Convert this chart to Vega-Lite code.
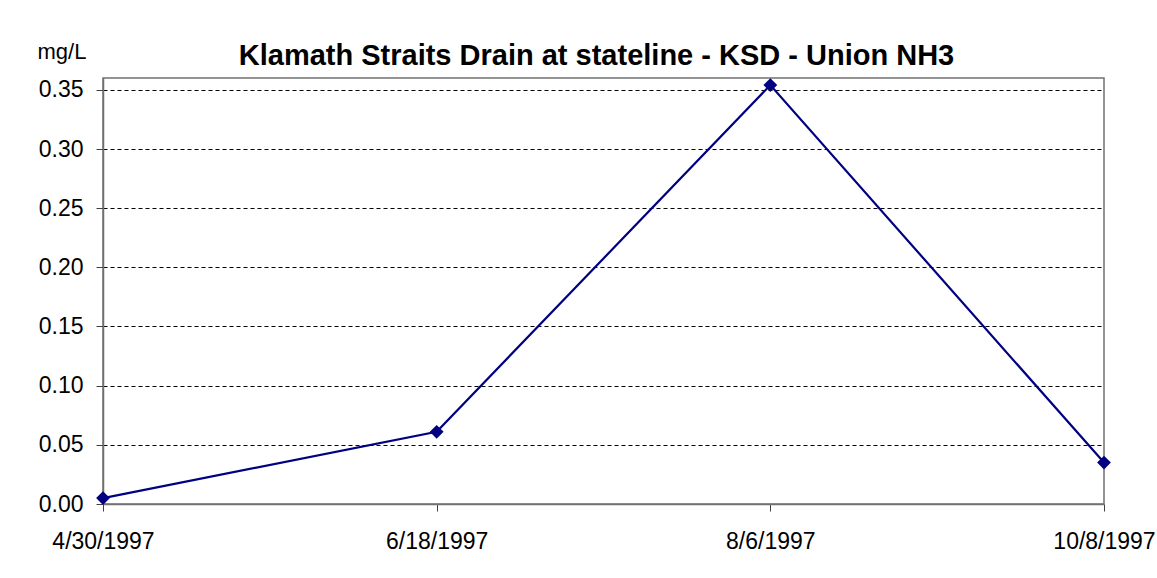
{
  "$schema": "https://vega.github.io/schema/vega-lite/v6.json",
  "width": 1001,
  "height": 426,
  "autosize": {"type": "none"},
  "padding": {"left": 103, "top": 78, "right": 53, "bottom": 74},
  "background": "white",
  "title": {
    "text": "Klamath Straits Drain at stateline - KSD - Union NH3",
    "font": "Liberation Sans",
    "fontSize": 29,
    "fontWeight": "bold",
    "color": "black",
    "anchor": "middle",
    "baseline": "alphabetic",
    "dx": -7,
    "dy": 66,
    "offset": 12
  },
  "data": {
    "values": [
      {"date": "4/30/1997", "value": 0.005},
      {"date": "6/18/1997", "value": 0.061},
      {"date": "8/6/1997", "value": 0.354},
      {"date": "10/8/1997", "value": 0.035}
    ]
  },
  "encoding": {
    "x": {
      "field": "date",
      "type": "ordinal",
      "sort": null,
      "scale": {"type": "point", "padding": 0},
      "axis": {
        "title": null,
        "labelAngle": 0,
        "labelFont": "Liberation Sans",
        "labelFontSize": 23,
        "labelColor": "black",
        "labelPadding": 19,
        "tickSize": 7,
        "tickColor": "#404040",
        "domainColor": "#707070",
        "domainWidth": 1.5,
        "grid": false
      }
    },
    "y": {
      "field": "value",
      "type": "quantitative",
      "scale": {"domain": [0, 0.36], "nice": false, "zero": true},
      "axis": {
        "title": "mg/L",
        "titleAngle": 0,
        "titleFont": "Liberation Sans",
        "titleFontSize": 22,
        "titleFontWeight": "normal",
        "titleColor": "black",
        "titleAlign": "left",
        "titleBaseline": "alphabetic",
        "titleX": -66,
        "titleY": -20,
        "values": [0, 0.05, 0.1, 0.15, 0.2, 0.25, 0.3, 0.35],
        "format": ".2f",
        "labelFont": "Liberation Sans",
        "labelFontSize": 23,
        "labelColor": "black",
        "labelPadding": 13,
        "tickSize": 7,
        "tickColor": "#404040",
        "domainColor": "#707070",
        "domainWidth": 1.5,
        "grid": true,
        "gridColor": "black",
        "gridDash": [4, 3],
        "gridWidth": 1
      }
    }
  },
  "layer": [
    {"mark": {"type": "line", "color": "#000080", "strokeWidth": 2.2}},
    {"mark": {"type": "point", "shape": "diamond", "filled": true, "color": "#000080", "size": 190, "opacity": 1}}
  ],
  "config": {
    "view": {"stroke": "#707070", "strokeWidth": 1.5}
  }
}
